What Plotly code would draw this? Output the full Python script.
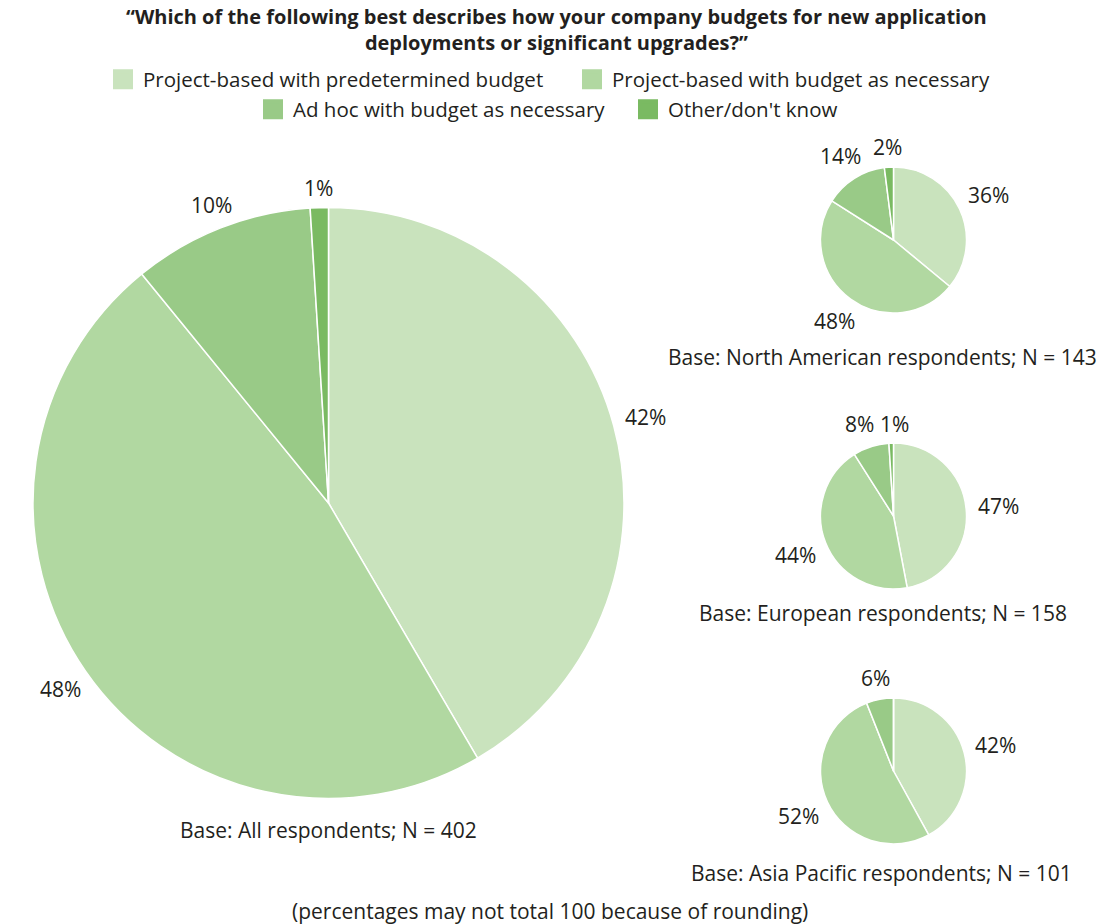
import math
import plotly.graph_objects as go

# Survey answers and regional splits (percent of respondents)
categories = [
    "Project-based with predetermined budget",
    "Project-based with budget as necessary",
    "Ad hoc with budget as necessary",
    "Other/don't know",
]
all_respondents = [42, 48, 10, 1]
north_america = [36, 48, 14, 2]
europe = [47, 44, 8, 1]
asia_pacific = [42, 52, 6, 0]

base_labels = [
    "Base: All respondents; N = 402",
    "Base: North American respondents; N = 143",
    "Base: European respondents; N = 158",
    "Base: Asia Pacific respondents; N = 101",
]
title_text = (
    "\u201cWhich of the following best describes how your company budgets for new application"
    "<br>deployments or significant upgrades?\u201d"
)
footnote = "(percentages may not total 100 because of rounding)"

colors = ["#c9e3bd", "#b1d8a1", "#99ca87", "#7aba62"]
FONT = "Open Sans"
TEXT = "#231f20"
LABEL_SIZE = 21
W, H = 1100, 924


def px_x(x):
    return x / W


def px_y(y):
    return 1 - y / H


def pie_domain(cx, cy, r):
    """Square pie domain (paper coords) for a centre/radius given in pixels."""
    return dict(x=[px_x(cx - r), px_x(cx + r)], y=[px_y(cy + r), px_y(cy - r)])


def label_width(s):
    # rough rendered width of a "NN%" label in pixels
    return 0.57 * LABEL_SIZE * (len(s) - 1) + 0.8 * LABEL_SIZE


# pie geometry in pixels: (values, centre x, centre y, radius, base label position)
pies = [
    (all_respondents, 328.5, 503, 295.5, (328, 830)),
    (north_america, 893.5, 240, 73, (882.5, 357)),
    (europe, 893.5, 516, 73, (882.5, 613)),
    (asia_pacific, 893.5, 771, 73, (881.5, 873)),
]

fig = go.Figure()
annotations = []

for values, cx, cy, r, _ in pies:
    fig.add_trace(
        go.Pie(
            labels=categories,
            values=values,
            textinfo="none",
            marker=dict(colors=colors, line=dict(color="white", width=1.5)),
            sort=False,
            direction="clockwise",
            rotation=0,
            domain=pie_domain(cx, cy, r),
            showlegend=False,
            hoverinfo="label+percent",
        )
    )
    # percentage labels just outside each slice, at the slice's mid-angle
    total = sum(values)
    cum = 0
    labels = []
    for v in values:
        if v > 0:
            theta = 2 * math.pi * (cum + v / 2) / total
            d = r + 19 + 14 * abs(math.sin(theta))
            labels.append([f"{v}%", cx + d * math.sin(theta), cy - d * math.cos(theta)])
        cum += v
    # push apart neighbouring labels that would collide
    for a, b in zip(labels, labels[1:]):
        if abs(a[2] - b[2]) < 20:
            left, right = (a, b) if a[1] < b[1] else (b, a)
            need = (label_width(left[0]) + label_width(right[0])) / 2 + 6
            gap = right[1] - left[1]
            if gap < need:
                shift = (need - gap) / 2
                left[1] -= shift
                right[1] += shift
    for txt, lx, ly in labels:
        annotations.append(
            dict(
                text=txt, x=px_x(lx), y=px_y(ly),
                xref="paper", yref="paper", showarrow=False,
                xanchor="center", yanchor="middle",
                font=dict(family=FONT, size=LABEL_SIZE, color=TEXT),
            )
        )

for (_, _, _, _, (bx, by)), base in zip(pies, base_labels):
    annotations.append(
        dict(
            text=base, x=px_x(bx), y=px_y(by), xref="paper", yref="paper",
            showarrow=False, xanchor="center", yanchor="middle",
            font=dict(family=FONT, size=21, color=TEXT),
        )
    )

annotations.append(
    dict(
        text=title_text, x=px_x(556), y=px_y(30), xref="paper", yref="paper",
        showarrow=False, xanchor="center", yanchor="middle", align="center",
        font=dict(family=FONT, size=20, color=TEXT, weight="bold"),
    )
)

annotations.append(
    dict(
        text=footnote, x=px_x(550), y=px_y(911), xref="paper", yref="paper",
        showarrow=False, xanchor="center", yanchor="middle",
        font=dict(family=FONT, size=21, color=TEXT),
    )
)

# Legend: one single-entry legend per category, laid out in two centred rows
legend_names = ["legend", "legend2", "legend3", "legend4"]
legend_pos = [(113, 79.5), (582, 79.5), (263, 109.5), (638, 109.5)]
layout_legends = {}
for name, col, lg, (lx, ly) in zip(categories, colors, legend_names, legend_pos):
    fig.add_trace(
        go.Scatter(
            x=[None], y=[None], mode="markers", name=name, legend=lg,
            marker=dict(symbol="square", size=16, color=col,
                        line=dict(color=col, width=4)),
        )
    )
    layout_legends[lg] = dict(
        x=px_x(lx - 10), y=px_y(ly), xanchor="left", yanchor="middle",
        orientation="h",
        font=dict(family=FONT, size=20.5, color=TEXT),
        bgcolor="rgba(0,0,0,0)", borderwidth=0,
        itemclick=False, itemdoubleclick=False,
    )

fig.update_layout(
    width=W,
    height=H,
    margin=dict(l=0, r=0, t=0, b=0),
    paper_bgcolor="white",
    plot_bgcolor="white",
    xaxis=dict(visible=False),
    yaxis=dict(visible=False),
    annotations=annotations,
    **layout_legends,
)

fig.write_html("out.html")
